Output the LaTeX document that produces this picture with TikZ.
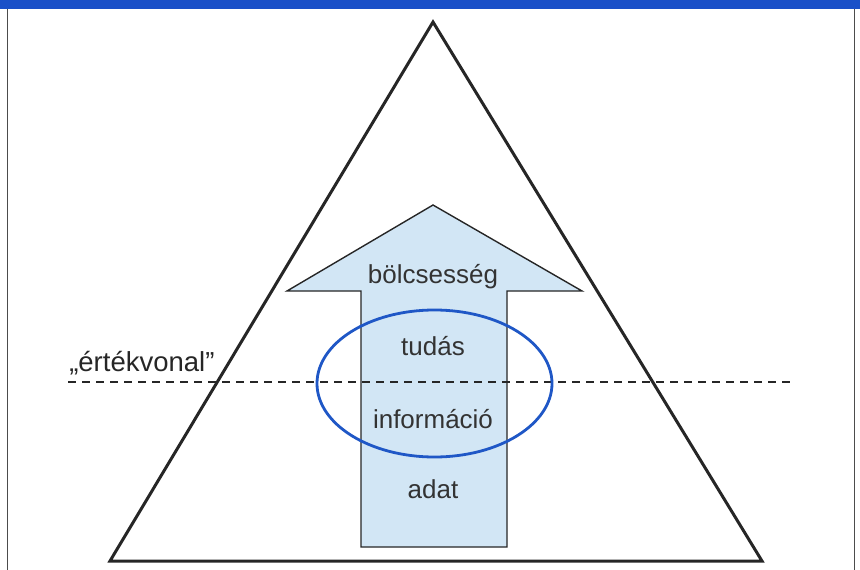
\documentclass[tikz,border=0pt]{standalone}
\usepackage{fontspec}
\setmainfont{Liberation Sans}
\usetikzlibrary{positioning}
\definecolor{barblue}{HTML}{1A50C8}
\definecolor{ovalblue}{HTML}{1F57C6}
\definecolor{arrowfill}{HTML}{D2E6F5}
\tikzset{every picture/.style={line width=0.5pt}}
\tikzstyle{level}=[font=\fontsize{26}{28}\selectfont,text=black!80,anchor=base,inner sep=0pt]
\tikzstyle{valueline}=[dash pattern=on 8pt off 6pt,line width=1.3pt,black!85]

\begin{document}
\begin{tikzpicture}[x=1pt,y=-1pt]
\useasboundingbox (0,0) rectangle (860,570);
% frame
\fill[barblue] (0,0) rectangle (860,9);
\draw[black!70,line width=1pt] (7,9) -- (7,570) (854,9) -- (854,570);
% pyramid
\coordinate (T) at (433,22);
\coordinate (L) at (110,561);
\coordinate (R) at (762,561);
\draw[line width=3pt,black!85,line join=miter] (T) -- (L) -- (R) -- cycle;
% arrow
\draw[fill=arrowfill,line width=1.4pt,draw=black!85] (361,547) -- (361,291) -- (287,291) -- (433,205)
  -- (582,291) -- (507,291) -- (507,547) -- cycle;
% value line
\coordinate (VL) at (68,382);
\coordinate (VR) at (795,382);
\draw[valueline] (VL) -- (VR);
\node[font=\fontsize{27.5}{30}\selectfont,text=black!85,anchor=base west,inner sep=0pt] (vlabel) at (69,371) {„értékvonal”};
% oval
\draw[ovalblue,line width=2.8pt] (434.5,383.5) ellipse [x radius=117.5pt,y radius=73.5pt];
% levels
\node[level] (wis) at (433,283) {bölcsesség};
\node[level] (know) at (433,355) {tudás};
\node[level] (info) at (433,428) {információ};
\node[level] (data) at (433,498) {adat};
\end{tikzpicture}
\end{document}
